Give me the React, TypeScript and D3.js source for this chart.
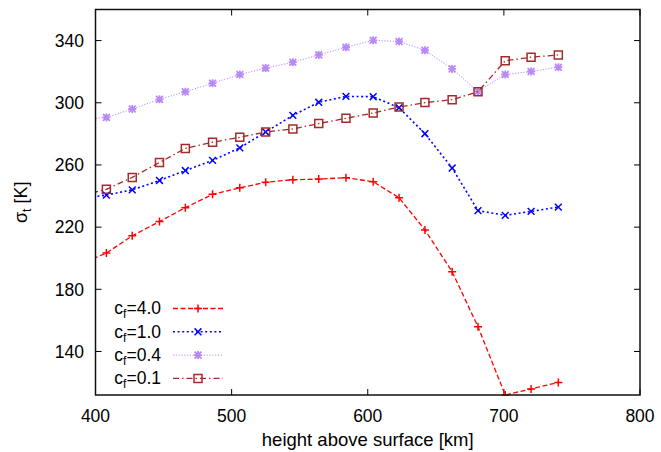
import React, { useRef, useEffect } from "react";
import * as d3 from "d3";

// height above surface [km]; first point lies left of the x range and gets clipped
const heights = [388, 408, 427, 447, 466, 486, 506, 525, 545, 564, 584, 604, 623, 642, 662, 681, 701, 720, 740];
const cf40 = [196, 203.3, 214.4, 223.6, 232.5, 241.1, 245.3, 248.8, 250.5, 250.9, 251.8, 249.2, 238.9, 218.2, 191.3, 155.9, 112, 115.9, 120.1];
const cf10 = [238.5, 240.6, 244, 250, 256.4, 262.9, 271, 281.2, 291.9, 300.3, 304.1, 303.9, 296.8, 280.1, 258, 230.6, 227.6, 230.1, 232.9];
const cf04 = [289, 290.6, 296, 302.2, 307.1, 312.6, 318.2, 322.3, 326.1, 330.8, 335.7, 340.2, 339.4, 333.8, 321.8, 307.3, 318.2, 320.1, 322.9];
const cf01 = [239.8, 244.3, 252, 261.6, 270.6, 274.6, 277.8, 281.2, 283.2, 286.6, 290, 293.4, 297.3, 300.1, 302, 307.1, 327, 329.3, 330.8];

const seriesLabels = ["4.0", "1.0", "0.4", "0.1"];
const xTicks = [400, 500, 600, 700, 800];
const yTicks = [140, 180, 220, 260, 300, 340];

const W = 661;
const H = 452;
const m = { left: 95.5, right: 640, top: 9.5, bottom: 395 };
const FONT = "Liberation Sans, Arial, sans-serif";

const styles = [
  { color: "#ff0000", dash: "5,2.5", width: 1.3, marker: "plus" },
  { color: "#0000ff", dash: "2,2.6", width: 1.6, marker: "cross" },
  { color: "#b98af5", dash: "1.2,1.6", width: 1, marker: "star" },
  { color: "#a52a2a", dash: "6,3,1.5,3", width: 1.3, marker: "square" },
];

function markerPath(kind, s = 4) {
  const p = d3.path();
  if (kind === "plus" || kind === "star") {
    p.moveTo(-s, 0); p.lineTo(s, 0);
    p.moveTo(0, -s); p.lineTo(0, s);
  }
  if (kind === "cross" || kind === "star") {
    const c = s * 0.85;
    p.moveTo(-c, -c); p.lineTo(c, c);
    p.moveTo(-c, c); p.lineTo(c, -c);
  }
  if (kind === "square") {
    p.rect(-s, -s, 2 * s, 2 * s);
  }
  return p.toString();
}

export default function App() {
  const ref = useRef(null);

  useEffect(() => {
    const svg = d3.select(ref.current);
    svg.selectAll("*").remove();

    const x = d3.scaleLinear().domain([400, 800]).range([m.left, m.right]);
    const y = d3.scaleLinear().domain([112, 360]).range([m.bottom, m.top]);

    svg.append("defs").append("clipPath").attr("id", "plotclip")
      .append("rect")
      .attr("x", m.left).attr("y", m.top - 1)
      .attr("width", m.right - m.left).attr("height", m.bottom - m.top + 2);

    // ticks (inward, mirrored)
    const tk = svg.append("g").attr("stroke", "#000").attr("stroke-width", 1);
    xTicks.forEach((t) => {
      tk.append("line").attr("x1", x(t)).attr("x2", x(t)).attr("y1", m.bottom).attr("y2", m.bottom - 6);
      tk.append("line").attr("x1", x(t)).attr("x2", x(t)).attr("y1", m.top).attr("y2", m.top + 6);
    });
    yTicks.forEach((t) => {
      tk.append("line").attr("x1", m.left).attr("x2", m.left + 6).attr("y1", y(t)).attr("y2", y(t));
      tk.append("line").attr("x1", m.right).attr("x2", m.right - 6).attr("y1", y(t)).attr("y2", y(t));
    });

    const labels = svg.append("g").attr("font-family", FONT).attr("font-size", 17.5).attr("fill", "#000");
    xTicks.forEach((t) => {
      labels.append("text").attr("x", x(t)).attr("y", 422).attr("text-anchor", "middle").text(t);
    });
    yTicks.forEach((t) => {
      labels.append("text").attr("x", 84).attr("y", y(t)).attr("dy", "0.36em").attr("text-anchor", "end").text(t);
    });

    labels.append("text").attr("x", (m.left + m.right) / 2).attr("y", 446).attr("font-size", 18.5)
      .attr("text-anchor", "middle").text("height above surface [km]");

    const yl = labels.append("text")
      .attr("transform", `translate(27,${(m.top + m.bottom) / 2}) rotate(-90)`)
      .attr("text-anchor", "middle").attr("font-size", 18);
    yl.append("tspan").text("σ");
    yl.append("tspan").attr("font-size", 12.5).attr("dy", 4).text("t");
    yl.append("tspan").attr("dy", -4).text(" [K]");

    const all = [cf40, cf10, cf04, cf01];
    const line = d3.line().x((d) => x(d[0])).y((d) => y(d[1]));

    const plot = svg.append("g").attr("clip-path", "url(#plotclip)");
    all.forEach((vals, i) => {
      const st = styles[i];
      const pts = heights.map((h, j) => [h, vals[j]]);
      plot.append("path").datum(pts).attr("d", line)
        .attr("fill", "none").attr("stroke", st.color)
        .attr("stroke-width", st.width).attr("stroke-dasharray", st.dash);
      plot.selectAll(null).data(pts).join("path")
        .attr("transform", (d) => `translate(${x(d[0])},${y(d[1])})`)
        .attr("d", markerPath(st.marker, 4))
        .attr("fill", "none").attr("stroke", st.color)
        .attr("stroke-width", st.marker === "star" ? 1.8 : 1.5);
    });

    // legend
    const leg = svg.append("g");
    all.forEach((vals, i) => {
      const st = styles[i];
      const ly = 308.5 + i * 23.3;
      const t = leg.append("text").attr("x", 161).attr("y", ly).attr("dy", "0.33em")
        .attr("text-anchor", "end").attr("font-family", FONT).attr("font-size", 17.5);
      t.append("tspan").text("c");
      t.append("tspan").attr("font-size", 12).attr("dy", 4).text("f");
      t.append("tspan").attr("dy", -4).text("=" + seriesLabels[i]);
      leg.append("line").attr("x1", 173).attr("x2", 223).attr("y1", ly).attr("y2", ly)
        .attr("stroke", st.color).attr("stroke-width", st.width).attr("stroke-dasharray", st.dash);
      leg.append("path").attr("transform", `translate(198,${ly})`)
        .attr("d", markerPath(st.marker, 4))
        .attr("fill", "none").attr("stroke", st.color)
        .attr("stroke-width", st.marker === "star" ? 1.8 : 1.5);
    });

    // frame
    svg.append("rect")
      .attr("x", m.left).attr("y", m.top)
      .attr("width", m.right - m.left).attr("height", m.bottom - m.top)
      .attr("fill", "none").attr("stroke", "#111").attr("stroke-width", 1.5);
  }, []);

  return (
    <div style={{ position: "absolute", left: 0, top: 0 }}>
      <svg ref={ref} width={W} height={H} style={{ display: "block", background: "#fff" }}></svg>
    </div>
  );
}
